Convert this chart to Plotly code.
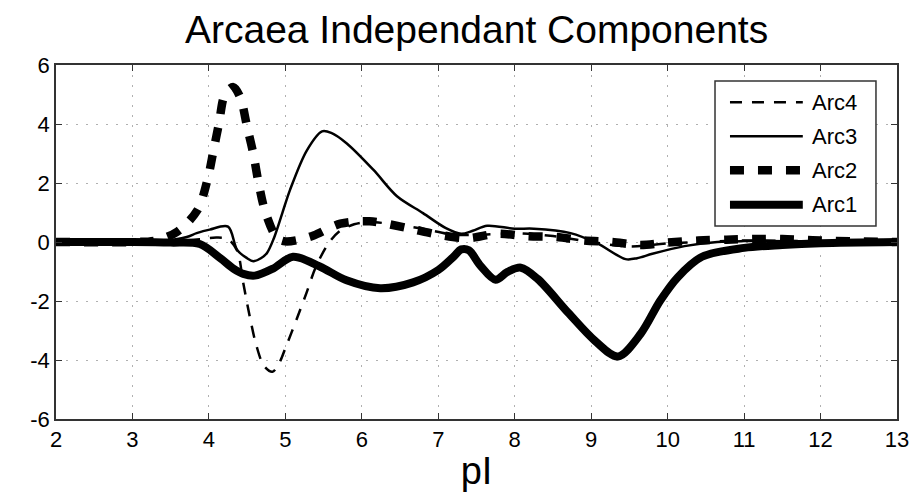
import plotly.graph_objects as go

# Independent component curves against isoelectric point (pI)
arc1_x = [2, 3, 3.5, 3.88, 4.15, 4.32, 4.45, 4.6, 4.84, 5.1, 5.45, 5.8, 6.24, 6.67, 7.0,
          7.2, 7.3, 7.4, 7.55, 7.75, 7.9, 8.08, 8.3, 8.7, 9.05, 9.35, 9.65, 9.9, 10.13,
          10.45, 11, 11.5, 12, 13]
arc1_y = [0, 0, -0.02, -0.07, -0.55, -0.9, -1.08, -1.14, -0.9, -0.5, -0.83, -1.3, -1.57,
          -1.37, -0.95, -0.5, -0.25, -0.28, -0.8, -1.28, -1.02, -0.87, -1.25, -2.4, -3.35,
          -3.88, -3.1, -2.0, -1.2, -0.5, -0.2, -0.1, -0.04, 0]

arc2_x = [2, 3, 3.3, 3.58, 3.85, 3.98, 4.06, 4.13, 4.21, 4.32, 4.41, 4.5, 4.58, 4.65,
          4.74, 4.89, 5.0, 5.15, 5.37, 5.72, 6.1, 6.6, 7.02, 7.39, 7.77, 8.16, 8.55, 8.9,
          9.27, 9.64, 10.0, 10.4, 10.77, 11.16, 11.5, 12, 13]
arc2_y = [0, 0, 0.05, 0.34, 1.08, 2.1, 3.1, 4.0, 5.0, 5.25, 4.9, 3.9, 3.0, 2.0, 1.0,
          0.14, 0.02, 0.06, 0.22, 0.62, 0.7, 0.47, 0.24, 0.13, 0.28, 0.2, 0.17, 0.05,
          0.0, -0.1, -0.02, 0.05, 0.08, 0.1, 0.1, 0.05, 0]

arc3_x = [2, 3, 3.4, 3.71, 3.84, 4.01, 4.25, 4.37, 4.5, 4.58, 4.68, 4.76, 4.85, 4.96,
          5.06, 5.28, 5.48, 5.6, 5.8, 6.15, 6.46, 6.8, 7.1, 7.3, 7.45, 7.64, 8.0, 8.25,
          8.73, 9.08, 9.45, 9.6, 9.8, 10.22, 10.65, 11, 12, 13]
arc3_y = [0, 0, 0.03, 0.17, 0.3, 0.42, 0.52, -0.27, -0.55, -0.65, -0.55, -0.37, 0.13,
          0.98, 1.76, 3.1, 3.75, 3.7, 3.35, 2.45, 1.55, 0.98, 0.47, 0.28, 0.38, 0.55,
          0.45, 0.45, 0.3, -0.05, -0.58, -0.55, -0.4, -0.14, 0.0, 0.03, 0.02, 0]

arc4_x = [2, 3, 3.5, 3.9, 4.1, 4.25, 4.37, 4.45, 4.54, 4.62, 4.72, 4.83, 4.92, 5.0,
          5.15, 5.28, 5.39, 5.55, 5.7, 5.9, 6.1, 6.4, 6.8, 7.2, 7.6, 8.0, 8.5, 9.0,
          9.5, 10, 11, 12, 13]
arc4_y = [0, 0, 0.02, 0.1, 0.15, 0.1, -0.3, -1.4, -2.6, -3.5, -4.2, -4.4, -4.1, -3.6,
          -2.6, -1.7, -0.9, -0.1, 0.35, 0.6, 0.68, 0.6, 0.45, 0.25, 0.25, 0.3, 0.2, 0.0,
          -0.15, -0.05, 0.05, 0.02, 0]

series_names = ["Arc4", "Arc3", "Arc2", "Arc1"]
x_ticks = [2, 3, 4, 5, 6, 7, 8, 9, 10, 11, 12, 13]
y_ticks = [-6, -4, -2, 0, 2, 4, 6]
y_tick_text = ["-6", "-4", "-2", "0", "2", "4", "6"]

# line styles: (width, dash)
styles = {
    "Arc1": (8, "solid"),
    "Arc2": (8.5, "14px,14px"),
    "Arc3": (2.5, "solid"),
    "Arc4": (2.5, "12px,10px"),
}
data = {
    "Arc1": (arc1_x, arc1_y),
    "Arc2": (arc2_x, arc2_y),
    "Arc3": (arc3_x, arc3_y),
    "Arc4": (arc4_x, arc4_y),
}

FONT = "Liberation Sans, Arial, Helvetica, sans-serif"

fig = go.Figure()
for name in ["Arc1", "Arc2", "Arc3", "Arc4"]:
    xs, ys = data[name]
    w, d = styles[name]
    fig.add_trace(go.Scatter(
        x=xs, y=ys, mode="lines", name=name, showlegend=False,
        line=dict(color="black", width=w, dash=d, shape="spline", smoothing=0.9),
    ))

# legend box drawn in paper coordinates
box_x0, box_x1 = 0.7836, 0.975
box_y0, box_y1 = 0.545, 0.955
row_y = [0.895, 0.799, 0.703, 0.605]
line_x0, line_x1 = 0.8014, 0.888
text_x = 0.896

fig.add_shape(type="rect", xref="paper", yref="paper",
              x0=box_x0, x1=box_x1, y0=box_y0, y1=box_y1,
              line=dict(color="#333333", width=1.5), fillcolor="white", layer="above")
for name, ry in zip(series_names, row_y):
    w, d = styles[name]
    fig.add_shape(type="line", xref="paper", yref="paper",
                  x0=line_x0, x1=line_x1, y0=ry, y1=ry,
                  line=dict(color="black", width=w, dash=d), layer="above")
    fig.add_annotation(xref="paper", yref="paper", x=text_x, y=ry, text=name,
                       showarrow=False, xanchor="left", yanchor="middle",
                       font=dict(family=FONT, size=22, color="black"))

axis_common = dict(
    showline=True, linecolor="#333333", linewidth=1.5, mirror="ticks",
    ticks="inside", ticklen=6, tickcolor="#333333", tickwidth=1.2,
    showgrid=True, gridcolor="#b0b0b0", gridwidth=1, griddash="2px,8px",
    zeroline=False, automargin=False,
    tickfont=dict(family=FONT, size=22, color="black"),
)

fig.update_layout(
    width=913, height=496,
    margin=dict(l=56, r=16, t=65, b=77, autoexpand=False),
    paper_bgcolor="white", plot_bgcolor="white",
    title=dict(text="Arcaea Independant Components", x=0.522, xanchor="center",
               y=0.94, yanchor="middle", yref="container",
               font=dict(family=FONT, size=39, color="black")),
    xaxis=dict(range=[2, 13], tickvals=x_ticks,
               title=dict(text="pI", standoff=6,
                          font=dict(family=FONT, size=38, color="black")),
               **axis_common),
    yaxis=dict(range=[-6, 6], tickvals=y_ticks, ticktext=y_tick_text, **axis_common),
)

fig.write_html("out.html")
